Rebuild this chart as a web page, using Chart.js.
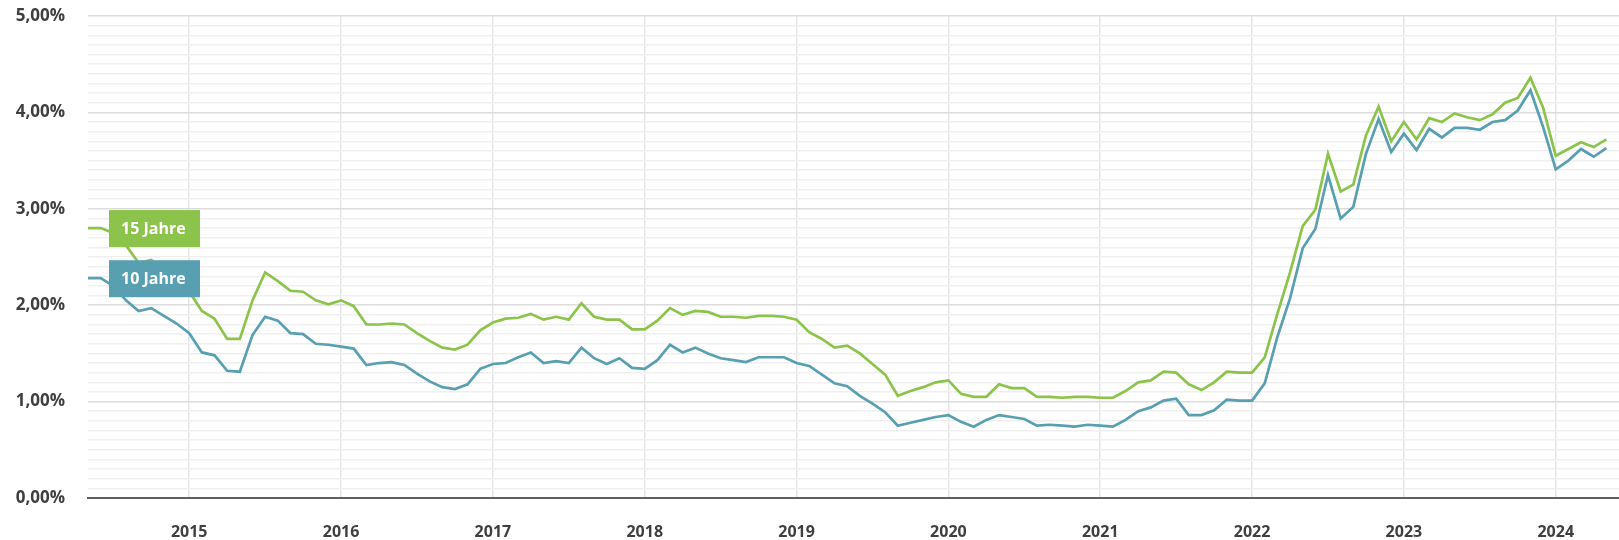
<!DOCTYPE html>
<html>
<head>
<meta charset="utf-8">
<script src="https://cdn.jsdelivr.net/npm/chart.js@4/dist/chart.umd.min.js"></script>
<style>
  body { margin: 0; background: #fff; }
  #wrap { width: 1619px; height: 540px; }
</style>
</head>
<body>
<div id="wrap"><canvas id="grafico" width="1619" height="540"></canvas></div>
<script>
// monthly values, May 2014 .. May 2024
var startYear = 2014;
var startMonth = 5;
var axisMonths = 122; // axis runs one month past the last value

var zins15 = [
  2.80, 2.80, 2.75, 2.62, 2.44, 2.47, 2.38, 2.27, 2.14, 1.94,
  1.86, 1.65, 1.65, 2.05, 2.34, 2.25, 2.15, 2.14, 2.05, 2.01,
  2.05, 1.99, 1.80, 1.80, 1.81, 1.80, 1.71, 1.63, 1.56, 1.54,
  1.59, 1.74, 1.82, 1.86, 1.87, 1.91, 1.85, 1.88, 1.85, 2.02,
  1.88, 1.85, 1.85, 1.75, 1.75, 1.84, 1.97, 1.90, 1.94, 1.93,
  1.88, 1.88, 1.87, 1.89, 1.89, 1.88, 1.85, 1.72, 1.65, 1.56,
  1.58, 1.50, 1.39, 1.28, 1.06, 1.11, 1.15, 1.20, 1.22, 1.08,
  1.05, 1.05, 1.18, 1.14, 1.14, 1.05, 1.05, 1.04, 1.05, 1.05,
  1.04, 1.04, 1.11, 1.20, 1.22, 1.31, 1.30, 1.18, 1.12, 1.20,
  1.31, 1.30, 1.30, 1.46, 1.91, 2.34, 2.82, 2.99, 3.57, 3.18,
  3.25, 3.76, 4.06, 3.70, 3.90, 3.72, 3.94, 3.90, 3.99, 3.95,
  3.92, 3.98, 4.10, 4.15, 4.36, 4.05, 3.55, 3.62, 3.69, 3.64,
  3.72
];

var zins10 = [
  2.28, 2.28, 2.20, 2.05, 1.94, 1.97, 1.89, 1.81, 1.71, 1.51,
  1.48, 1.32, 1.31, 1.69, 1.88, 1.84, 1.71, 1.70, 1.60, 1.59,
  1.57, 1.55, 1.38, 1.40, 1.41, 1.38, 1.29, 1.21, 1.15, 1.13,
  1.18, 1.34, 1.39, 1.40, 1.46, 1.51, 1.40, 1.42, 1.40, 1.56,
  1.45, 1.39, 1.45, 1.35, 1.34, 1.43, 1.59, 1.51, 1.56, 1.50,
  1.45, 1.43, 1.41, 1.46, 1.46, 1.46, 1.40, 1.37, 1.28, 1.19,
  1.16, 1.06, 0.98, 0.89, 0.75, 0.78, 0.81, 0.84, 0.86, 0.79,
  0.74, 0.81, 0.86, 0.84, 0.82, 0.75, 0.76, 0.75, 0.74, 0.76,
  0.75, 0.74, 0.81, 0.90, 0.94, 1.01, 1.03, 0.86, 0.86, 0.91,
  1.02, 1.01, 1.01, 1.19, 1.67, 2.07, 2.59, 2.79, 3.35, 2.90,
  3.02, 3.57, 3.93, 3.59, 3.78, 3.61, 3.83, 3.74, 3.84, 3.84,
  3.82, 3.90, 3.92, 4.02, 4.23, 3.85, 3.41, 3.50, 3.62, 3.54,
  3.63
];

var seriesNames = ['15 Jahre', '10 Jahre'];
var seriesColors = ['#8cc34b', '#589fb2'];
var yTicks = [0, 1, 2, 3, 4, 5];

var labels = [];
for (var i = 0; i < axisMonths; i++) {
    var m = startMonth - 1 + i;
    labels.push((startYear + Math.floor(m / 12)) + '-' + ((m % 12) + 1));
}

function isJanuary(idx) {
    var l = labels[idx];
    return l && l.split('-')[1] === '1';
}

// name boxes at the start of each line
var nameBoxes = {
    id: 'nameBoxes',
    afterDatasetsDraw: function(chart) {
        var ctx = chart.ctx;
        chart.data.datasets.forEach(function(ds, k) {
            var pt = chart.getDatasetMeta(k).data[0];
            ctx.save();
            ctx.fillStyle = ds.borderColor;
            ctx.fillRect(pt.x + 21, pt.y - 18, 91, 37);
            ctx.fillStyle = '#ffffff';
            ctx.font = '700 16px "Open Sans"';
            ctx.textBaseline = 'middle';
            ctx.fillText(ds.label, pt.x + 33, pt.y + 1);
            ctx.restore();
        });
    }
};

var canvas = document.getElementById('grafico');
var graph = new Chart(canvas, {
    type: 'line',
    data: {
        labels: labels,
        datasets: [{
            label: seriesNames[0],
            data: zins15,
            borderColor: seriesColors[0],
            backgroundColor: seriesColors[0],
            borderWidth: 2.7,
            pointRadius: 0,
            tension: 0,
            fill: false
        }, {
            label: seriesNames[1],
            data: zins10,
            borderColor: seriesColors[1],
            backgroundColor: seriesColors[1],
            borderWidth: 2.7,
            pointRadius: 0,
            tension: 0,
            fill: false
        }]
    },
    options: {
        responsive: false,
        animation: false,
        devicePixelRatio: 1,
        layout: { padding: 0 },
        plugins: {
            legend: { display: false },
            tooltip: { enabled: false }
        },
        scales: {
            x: {
                offset: false,
                border: { display: true, color: '#5f5f5f', width: 2 },
                grid: {
                    drawTicks: false,
                    color: function(c) { return isJanuary(c.index) ? '#e6e6e6' : 'rgba(0,0,0,0)'; },
                    lineWidth: 1.5
                },
                ticks: {
                    autoSkip: false,
                    maxRotation: 0,
                    padding: 25,
                    color: '#3f3f3f',
                    font: { family: '"Open Sans"', size: 16, weight: '700' },
                    callback: function(v, idx) {
                        return isJanuary(idx) ? labels[idx].split('-')[0] : '';
                    }
                },
                afterFit: function(s) {
                    s.height = 42;
                    s.paddingLeft = 0;
                    s.paddingRight = 0;
                }
            },
            y: {
                min: 0,
                max: 5,
                border: { display: false },
                grid: {
                    drawTicks: false,
                    color: function(c) {
                        var v = c.tick ? c.tick.value : 0;
                        return yTicks.indexOf(Math.round(v * 10) / 10) >= 0 ? '#dcdcdc' : '#efefef';
                    },
                    lineWidth: 1.5
                },
                ticks: {
                    stepSize: 0.1,
                    autoSkip: false,
                    maxTicksLimit: 60,
                    padding: 23,
                    color: '#3f3f3f',
                    font: { family: '"Open Sans"', size: 17, weight: '700' },
                    callback: function(v) {
                        var r = Math.round(v * 10) / 10;
                        if (yTicks.indexOf(r) < 0) return '';
                        return r.toFixed(2).replace('.', ',') + '%';
                    }
                },
                afterFit: function(s) {
                    s.width = 88;
                    s.paddingTop = 16;
                    s.paddingBottom = 0;
                }
            }
        }
    },
    plugins: [nameBoxes]
});
</script>
</body>
</html>
